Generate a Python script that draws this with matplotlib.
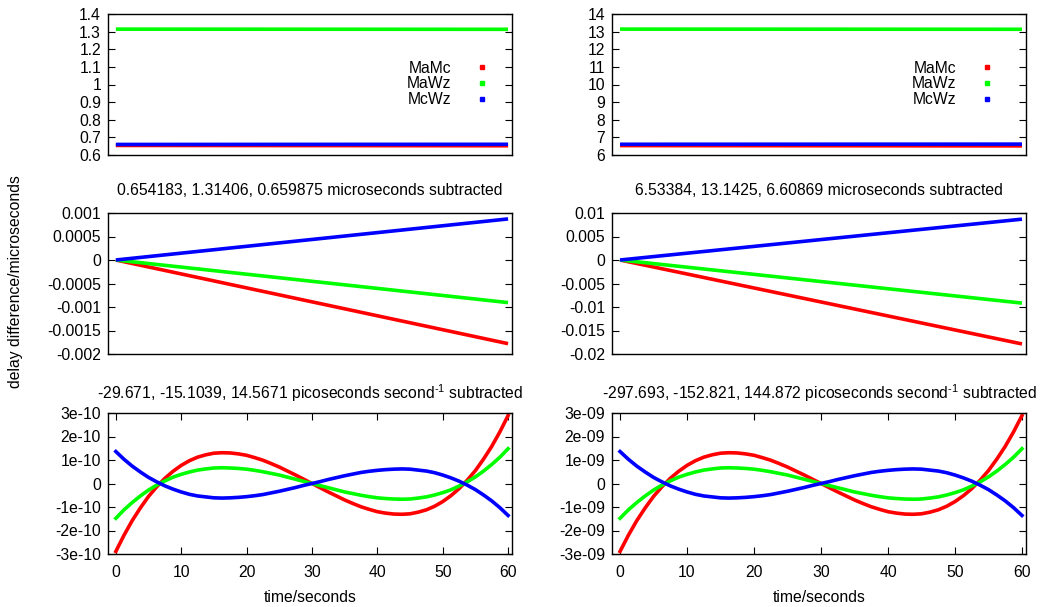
import matplotlib
matplotlib.use('Agg')
import matplotlib.pyplot as plt
from matplotlib.lines import Line2D
from matplotlib.ticker import MultipleLocator, FuncFormatter

plt.rcParams['font.family'] = ['Liberation Sans', 'DejaVu Sans']
plt.rcParams['mathtext.default'] = 'regular'
FS = 11.3

names = ['MaMc', 'MaWz', 'McWz']
colors = ['#ff0000', '#00ff00', '#0000ff']

# constant offsets (microseconds) for each column
offsets = [[0.654183, 1.31406, 0.659875],
           [6.53384, 13.1425, 6.60869]]
# drift (picoseconds per second) for each column
drifts = [[-29.671, -15.1039, 14.5671],
          [-297.693, -152.821, 144.872]]

# end points of the offset-removed lines (microseconds), at t=0 and t=60
t_end = [0, 60]
lin_left = [[0, -0.00178], [0, -0.000906], [0, 0.000874]]
lin_right = [[0, -0.01786], [0, -0.00917], [0, 0.00869]]

# residuals after drift removal (units of 1e-10 s left, 1e-9 s right)
t_res = [0, 1.25, 2.5, 3.75, 5, 6.25, 7.5, 8.75, 10, 11.25, 12.5, 13.75, 15,
         16.25, 17.5, 18.75, 20, 21.25, 22.5, 23.75, 25, 26.25, 27.5, 28.75, 30,
         31.25, 32.5, 33.75, 35, 36.25, 37.5, 38.75, 40, 41.25, 42.5, 43.75, 45,
         46.25, 47.5, 48.75, 50, 51.25, 52.5, 53.75, 55, 56.25, 57.5, 58.75, 60]
res_red = [-2.89, -2.20, -1.58, -1.04, -0.55, -0.14, 0.22, 0.52, 0.77, 0.97, 1.12, 1.22, 1.29,
           1.31, 1.30, 1.26, 1.20, 1.10, 0.99, 0.85, 0.70, 0.53, 0.36, 0.18, 0.0,
           -0.18, -0.36, -0.53, -0.70, -0.85, -0.99, -1.10, -1.20, -1.26, -1.30, -1.31, -1.29,
           -1.22, -1.12, -0.97, -0.77, -0.52, -0.22, 0.14, 0.55, 1.04, 1.58, 2.20, 2.89]
res_green = [-1.48, -1.12, -0.81, -0.53, -0.28, -0.07, 0.11, 0.27, 0.39, 0.49, 0.57, 0.62, 0.66,
             0.67, 0.66, 0.64, 0.61, 0.56, 0.50, 0.43, 0.36, 0.27, 0.18, 0.09, 0.0,
             -0.09, -0.18, -0.27, -0.36, -0.43, -0.50, -0.56, -0.61, -0.64, -0.66, -0.67, -0.66,
             -0.62, -0.57, -0.49, -0.39, -0.27, -0.11, 0.07, 0.28, 0.53, 0.81, 1.12, 1.48]
res_blue = [1.36, 1.03, 0.74, 0.49, 0.26, 0.07, -0.10, -0.24, -0.36, -0.46, -0.53, -0.57, -0.61,
            -0.62, -0.61, -0.59, -0.56, -0.52, -0.47, -0.40, -0.33, -0.25, -0.17, -0.08, 0.0,
            0.08, 0.17, 0.25, 0.33, 0.40, 0.47, 0.52, 0.56, 0.59, 0.61, 0.62, 0.61,
            0.57, 0.53, 0.46, 0.36, 0.24, 0.10, -0.07, -0.26, -0.49, -0.74, -1.03, -1.36]
res_scale = [1e-10, 1e-9]

top_ylim = [(0.6, 1.4, 0.1), (6, 14, 1)]
mid_ylim = [(-0.002, 0.001, 0.0005), (-0.02, 0.01, 0.005)]
bot_ylim = [(-3e-10, 3e-10, 1e-10), (-3e-09, 3e-09, 1e-09)]

W, H = 1042, 607
fig = plt.figure(figsize=(W / 100, H / 100), dpi=100)

col_x = [(108, 512), (612, 1026)]
row_y = [(14, 155), (213, 354), (413, 554)]

fmt = FuncFormatter(lambda v, p: '0' if abs(v) < 1e-15 else '%g' % v)
LW = 2.6


def make_ax(c, r):
    x0, x1 = col_x[c]
    y0, y1 = row_y[r]
    ax = fig.add_axes([x0 / W, 1 - y1 / H, (x1 - x0) / W, (y1 - y0) / H])
    ax.set_xlim(-1.2, 60.6)
    ax.tick_params(direction='in', which='both', left=True, right=True,
                   top=(r == 2), bottom=(r == 2), labelbottom=(r == 2),
                   labelsize=FS, length=5, width=0.8, colors='black', pad=5)
    ax.tick_params(axis='x', pad=8)
    ax.yaxis.set_major_formatter(fmt)
    for s in ax.spines.values():
        s.set_linewidth(1.0)
    return ax


for c in range(2):
    lin = lin_left if c == 0 else lin_right

    # top: raw delays
    ax = make_ax(c, 0)
    for i in range(3):
        y = [offsets[c][i] + v for v in lin[i]]
        ax.plot(t_end, y, color=colors[i], lw=LW, solid_capstyle='butt')
    lo, hi, st = top_ylim[c]
    ax.set_ylim(lo, hi)
    ax.yaxis.set_major_locator(MultipleLocator(st))
    handles = [Line2D([], [], color=colors[i], marker='s', markersize=3, ls='none')
               for i in range(3)]
    ax.legend(handles, names, loc='center right',
              bbox_to_anchor=(0.965 if c == 0 else 0.944, 0.505),
              frameon=False, markerfirst=False, fontsize=FS, handlelength=1.0,
              handletextpad=1.45, labelspacing=0.05, borderpad=0)

    # middle: offsets subtracted
    ax = make_ax(c, 1)
    for i in range(3):
        ax.plot(t_end, lin[i], color=colors[i], lw=LW, solid_capstyle='butt')
    lo, hi, st = mid_ylim[c]
    ax.set_ylim(lo, hi)
    ax.yaxis.set_major_locator(MultipleLocator(st))
    ax.set_title('%g, %g, %g microseconds subtracted' % tuple(offsets[c]),
                 fontsize=FS, pad=13)

    # bottom: drift subtracted
    ax = make_ax(c, 2)
    for i, res in enumerate([res_red, res_green, res_blue]):
        ax.plot(t_res, [v * res_scale[c] for v in res], color=colors[i], lw=LW)
    lo, hi, st = bot_ylim[c]
    ax.set_ylim(lo, hi)
    ax.yaxis.set_major_locator(MultipleLocator(st))
    ax.xaxis.set_major_locator(MultipleLocator(10))
    ax.set_title('%g, %g, %g picoseconds second$^{\u20101}$ subtracted' % tuple(drifts[c]),
                 fontsize=FS, pad=10)
    ax.set_xlabel('time/seconds', fontsize=FS, labelpad=7)

fig.text(16 / W, 1 - 282 / H, 'delay difference/microseconds', rotation=90,
         ha='center', va='center', fontsize=FS)

fig.savefig('out.png', dpi=100)
